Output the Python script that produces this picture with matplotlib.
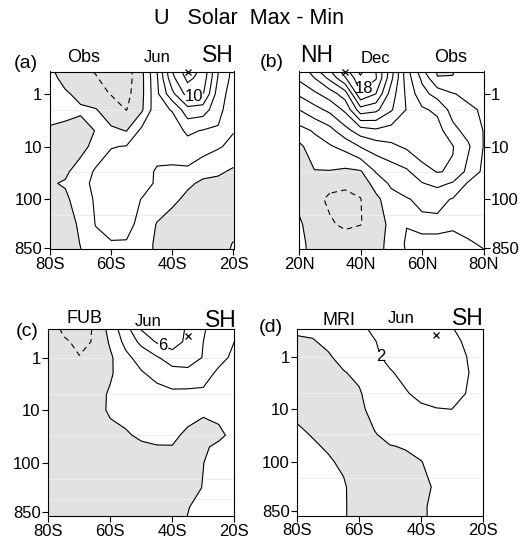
import numpy as np
import matplotlib
matplotlib.use('Agg')
import matplotlib.pyplot as plt

plt.rcParams['font.family'] = ['Liberation Sans', 'DejaVu Sans']
plt.rcParams['lines.scale_dashes'] = False
plt.rcParams['lines.dashed_pattern'] = [4.0, 3.0]

# grid: 5 degree latitudes, pressure levels (hPa), top row first
LAT_SH = [-80, -75, -70, -65, -60, -55, -50, -45, -40, -35, -30, -25, -20]
LAT_NH = [20, 25, 30, 35, 40, 45, 50, 55, 60, 65, 70, 75, 80]
PLEV = [0.28, 0.5, 1, 2, 5, 10, 30, 50, 100, 300, 700, 1100]

# (a) Obs, June, SH  (m/s, solar max - min)
U_OBS_JUN = [
    [0.1, -1.0, -1.8, -2.3, -2.8, -3.0, -0.4, 4.2, 10.5, 14.0, 11.9, 6.3, 3.5],
    [0.5, -0.5, -1.6, -1.9, -2.6, -2.9, -0.5, 3.8, 9.5, 12.5, 11.2, 5.8, 3.3],
    [1.0, 0.2, -0.4, -1.3, -2.1, -2.6, -0.5, 3.6, 7.5, 10.8, 10.2, 5.0, 3.0],
    [0.9, 0.6, 0.2, 0.1, -1.0, -2.05, -0.3, 3.5, 4.1, 7.3, 7.0, 4.6, 2.7],
    [-0.3, -0.5, -0.5, 0.05, 0.3, -0.05, 2.5, 3.5, 3.2, 4.3, 3.9, 3.8, 2.1],
    [-0.8, -0.9, -0.6, 0.6, 1.9, 2.1, 3.2, 3.4, 2.8, 3.4, 3.0, 2.2, 1.5],
    [-0.6, -0.3, 0.8, 2.3, 3.0, 3.2, 3.4, 1.6, 1.7, 1.6, 0.5, 0.3, -0.3],
    [-0.15, 0.15, 1.2, 2.6, 3.2, 3.4, 3.4, 1.5, 1.1, 0.3, -0.3, -0.5, -0.8],
    [-0.6, -0.3, 0.8, 2.3, 3.3, 3.3, 1.9, 1.0, 0.4, -0.4, -0.9, -1.0, -1.0],
    [-1.0, -0.8, 0.3, 2.1, 3.0, 2.8, 1.2, -0.1, -0.8, -1.2, -1.3, -1.2, -0.8],
    [-1.0, -0.8, 0.05, 1.3, 1.8, 1.8, 0.8, -0.3, -1.0, -1.2, -1.3, -0.8, 0.1],
    [-1.0, -0.8, -0.1, 1.2, 1.6, 1.6, 0.8, -0.3, -1.0, -1.2, -1.2, -0.6, 0.3],
]

# (b) Obs, December, NH
U_OBS_DEC = [
    [9.2, 12.4, 15.0, 18.3, 21.5, 17.8, 13.2, 6.5, 1.7, -0.3, -0.2, 0.6, 1.0],
    [8.4, 10.0, 12.5, 15.8, 19.6, 18.2, 12.5, 7.0, 3.6, 0.05, 0.05, 0.9, 1.2],
    [6.3, 7.6, 9.0, 11.0, 17.7, 16.0, 11.0, 7.6, 4.7, 3.2, 2.1, 1.6, 1.4],
    [4.0, 5.3, 6.5, 8.4, 13.2, 12.5, 10.2, 7.9, 6.3, 5.6, 3.2, 2.3, 1.8],
    [1.3, 2.2, 3.3, 5.3, 7.0, 7.6, 7.2, 7.4, 7.5, 6.8, 4.6, 3.3, 1.95],
    [-0.5, 1.2, 1.8, 2.6, 4.1, 5.0, 5.6, 6.3, 7.3, 7.0, 6.1, 4.3, 1.95],
    [-1.2, -0.1, -0.1, -0.4, -0.2, 2.1, 3.0, 3.7, 5.2, 6.1, 5.8, 3.4, 1.6],
    [-1.0, -1.0, -1.5, -1.5, -1.5, 1.0, 2.3, 2.8, 3.9, 4.6, 3.8, 1.8, 1.3],
    [-0.5, -1.5, -2.3, -2.7, -2.05, -0.6, 1.4, 1.9, 2.3, 2.4, 1.9, 1.5, 1.2],
    [0.3, -1.0, -1.8, -2.3, -2.05, -1.5, 0.8, 1.95, 1.7, 1.7, 1.8, 1.7, 1.4],
    [0.4, -0.5, -0.9, -1.2, -1.0, -1.0, 0.9, 2.2, 2.3, 2.3, 2.4, 2.1, 1.9],
    [0.4, -0.4, -0.8, -1.0, -0.8, -0.8, 0.8, 2.1, 2.2, 2.2, 2.3, 2.1, 2.1],
]

# (c) FUB model, June, SH
U_FUB_JUN = [
    [-1.2, -2.3, -2.4, -1.9, 0.8, 3.3, 6.2, 7.5, 7.6, 5.6, 4.2, 3.0, 2.6],
    [-1.0, -1.8, -2.3, -1.9, 0.3, 2.6, 4.5, 6.2, 7.0, 5.5, 4.0, 2.8, 2.0],
    [-0.8, -1.5, -1.95, -1.4, -0.3, 1.5, 2.8, 3.8, 5.0, 5.0, 3.9, 2.6, 1.6],
    [-0.7, -1.3, -1.6, -1.2, -0.2, 0.9, 1.8, 2.6, 3.2, 3.4, 2.8, 1.6, 1.2],
    [-0.6, -1.0, -1.0, -0.6, 0.2, 0.6, 1.0, 1.3, 1.6, 1.5, 1.6, 1.3, 1.1],
    [-0.6, -0.8, -0.8, -0.5, 0.2, 0.6, 0.8, 0.9, 0.9, 0.6, 0.2, 0.4, 0.8],
    [-1.0, -1.0, -0.9, -0.7, -0.4, -0.2, 0.3, 0.5, 0.3, -0.3, -0.5, -0.3, 0.4],
    [-1.0, -1.0, -1.0, -0.9, -0.7, -0.5, -0.3, -0.1, -0.05, -0.3, -0.2, 0.3, 0.8],
    [-1.0, -1.0, -1.0, -1.0, -0.9, -0.8, -0.7, -0.6, -0.5, -0.3, -0.02, 0.5, 0.8],
    [-1.0, -1.0, -1.0, -1.0, -1.0, -0.9, -0.8, -0.7, -0.6, -0.4, 0.05, 0.5, 0.8],
    [-1.0, -1.0, -1.0, -1.0, -1.0, -0.9, -0.8, -0.7, -0.5, -0.05, 0.4, 0.6, 0.8],
    [-1.0, -1.0, -1.0, -1.0, -1.0, -0.9, -0.8, -0.7, -0.5, 0.03, 0.4, 0.6, 0.8],
]

# (d) MRI model, June, SH
U_MRI_JUN = [
    [0.3, 0.4, 0.8, 1.3, 1.7, 2.3, 2.6, 2.9, 3.0, 3.0, 2.05, 1.5, 1.2],
    [-0.2, -0.1, 0.4, 1.1, 1.5, 1.95, 2.5, 2.8, 2.95, 3.0, 2.3, 1.8, 1.4],
    [-0.6, -0.6, -0.2, 0.6, 1.1, 1.8, 2.3, 2.6, 2.8, 2.9, 2.6, 1.98, 1.6],
    [-0.8, -0.8, -0.6, -0.1, 0.4, 1.5, 1.9, 2.3, 2.6, 2.8, 2.6, 2.05, 1.6],
    [-0.6, -0.7, -0.8, -0.5, -0.2, 1.0, 1.4, 1.9, 2.3, 2.5, 2.4, 1.95, 1.5],
    [-0.4, -0.6, -0.8, -0.8, -0.4, 0.6, 1.0, 1.4, 1.8, 1.95, 2.0, 1.7, 1.4],
    [0.3, -0.1, -0.5, -0.8, -0.8, -0.1, 0.5, 0.6, 1.0, 1.3, 1.4, 1.3, 1.2],
    [0.4, 0.2, -0.2, -0.6, -0.9, -0.3, -0.05, 0.1, 0.5, 0.9, 1.1, 1.1, 1.0],
    [0.5, 0.4, 0.2, -0.3, -0.9, -0.5, -0.4, -0.3, -0.05, 0.5, 0.8, 0.9, 0.9],
    [0.5, 0.5, 0.4, 0.2, -0.9, -0.6, -0.5, -0.4, -0.3, 0.15, 0.6, 0.7, 0.7],
    [0.4, 0.4, 0.4, 0.2, -0.8, -0.6, -0.5, -0.4, -0.2, 0.3, 0.6, 0.6, 0.6],
    [0.4, 0.4, 0.4, 0.2, -0.8, -0.6, -0.5, -0.4, -0.2, 0.3, 0.6, 0.6, 0.6],
]

# position of the "x" marker in each panel
MARK_LAT = [-35, 35, -35, -35]
MARK_P = [0.39, 0.39, 0.39, 0.39]

YTICKS = [1, 10, 100, 850]
XT_SH = [-80, -60, -40, -20]
XL_SH = ['80S', '60S', '40S', '20S']
XT_NH = [20, 40, 60, 80]
XL_NH = ['20N', '40N', '60N', '80N']

GREY = '#e1e2e4'
LEVELS = np.arange(-10, 24, 2)

W, H = 523, 539
fig = plt.figure(figsize=(W / 100, H / 100), dpi=100)


def px_axes(x0, y0, x1, y1):
    return fig.add_axes([x0 / W, 1 - y1 / H, (x1 - x0) / W, (y1 - y0) / H])


panels = [
    dict(box=(50, 71.5, 233.5, 249.3), lat=LAT_SH, u=U_OBS_JUN, ylim=(896, 0.376),
         xt=XT_SH, xl=XL_SH, faint=[2, 30, 200], right=False,
         tag='(a)', name='Obs', mon='Jun', hemi='SH', clab=(10, (-33, 1.0))),
    dict(box=(299, 71.5, 483.5, 249.3), lat=LAT_NH, u=U_OBS_DEC, ylim=(896, 0.376),
         xt=XT_NH, xl=XL_NH, faint=[2, 30, 200], right=True,
         tag='(b)', name='Obs', mon='Dec', hemi='NH', clab=(18, (42.5, 1.0))),
    dict(box=(48.3, 329.3, 234.3, 516), lat=LAT_SH, u=U_FUB_JUN, ylim=(1030, 0.29),
         xt=XT_SH, xl=XL_SH, faint=[1, 5, 30, 200, 500], right=False,
         tag='(c)', name='FUB', mon='Jun', hemi='SH', clab=(6, (-43, 0.6))),
    dict(box=(297.3, 329.3, 482.7, 515.7), lat=LAT_SH, u=U_MRI_JUN, ylim=(1060, 0.30),
         xt=XT_SH, xl=XL_SH, faint=[1, 5, 30, 200], right=False,
         tag='(d)', name='MRI', mon='Jun', hemi='SH', clab=(2, (-53, 1.0))),
]

# text placement: (tag right x, tag centre dy, name x, name dy, mon x, mon dy, hemi x, hemi dy)
# dy = pixels above the axes top
TXT = [
    (-0.065, 8.5, 0.185, 9.8, 0.583, 9.0, 1.0, 9.8),
    (-0.085, 9.0, 0.823, 9.8, 0.416, 8.2, 0.005, 9.8),
    (-0.054, -2.7, 0.197, 6.0, 0.538, 3.3, 1.013, 2.6),
    (-0.076, 1.8, 0.226, 4.3, 0.558, 6.0, 1.003, 4.3),
]

for i, pn in enumerate(panels):
    ax = px_axes(*pn['box'])
    hpx = pn['box'][3] - pn['box'][1]
    lat = np.array(pn['lat'])
    lp = np.log10(PLEV)          # contour in log-pressure
    u = np.array(pn['u'])

    ax.set_ylim(np.log10(pn['ylim'][0]), np.log10(pn['ylim'][1]))
    ax.set_xlim(lat[0], lat[-1])

    ax.contourf(lat, lp, u, levels=[-50, 0], colors=[GREY], zorder=1)
    for lv in pn['faint']:
        ax.axhline(np.log10(lv), color='#ededed', lw=0.8, zorder=1.5)
    ax.contour(lat, lp, u, levels=LEVELS[LEVELS < 0], colors='k',
               linewidths=0.8, linestyles='--', zorder=2)
    lv, pos = pn['clab']
    ax.contour(lat, lp, u, levels=LEVELS[(LEVELS >= 0) & (LEVELS != lv)],
               colors='k', linewidths=0.8, linestyles='-', zorder=2)
    cl = ax.contour(lat, lp, u, levels=[lv], colors='k', linewidths=0.8,
                    linestyles='-', zorder=2)
    txts = ax.clabel(cl, manual=[(pos[0], np.log10(pos[1]))], fmt='%d',
                     fontsize=12, inline=True, inline_spacing=1)
    for t in txts:
        t.set_rotation(0)

    ax.plot(MARK_LAT[i], np.log10(MARK_P[i]), marker='x', color='k', ms=5,
            mew=0.9, clip_on=False, zorder=3)

    ax.set_yticks(np.log10(YTICKS))
    ax.set_yticklabels([str(v) for v in YTICKS])
    ax.set_xticks(pn['xt'])
    ax.set_xticklabels(pn['xl'])
    ax.tick_params(direction='out', length=4, width=0.8, labelsize=12, pad=1.5)
    if pn['right']:
        ax.yaxis.tick_right()
    for s in ax.spines.values():
        s.set_linewidth(0.8)

    tx, tdy, nx, ndy, mx, mdy, hx, hdy = TXT[i]
    ax.text(tx, 1 + tdy / hpx, pn['tag'], transform=ax.transAxes, ha='right',
            va='center', fontsize=14)
    ax.text(nx, 1 + ndy / hpx, pn['name'], transform=ax.transAxes, ha='center',
            va='baseline', fontsize=13)
    ax.text(mx, 1 + mdy / hpx, pn['mon'], transform=ax.transAxes, ha='center',
            va='baseline', fontsize=12)
    ax.text(hx, 1 + hdy / hpx, pn['hemi'], transform=ax.transAxes,
            ha='left' if pn['right'] else 'right', va='baseline', fontsize=16.5)

fig.text(249 / W, 1 - 18 / H, 'U   Solar  Max - Min', ha='center', va='center',
         fontsize=15.5)

fig.savefig('out.png', dpi=100)
